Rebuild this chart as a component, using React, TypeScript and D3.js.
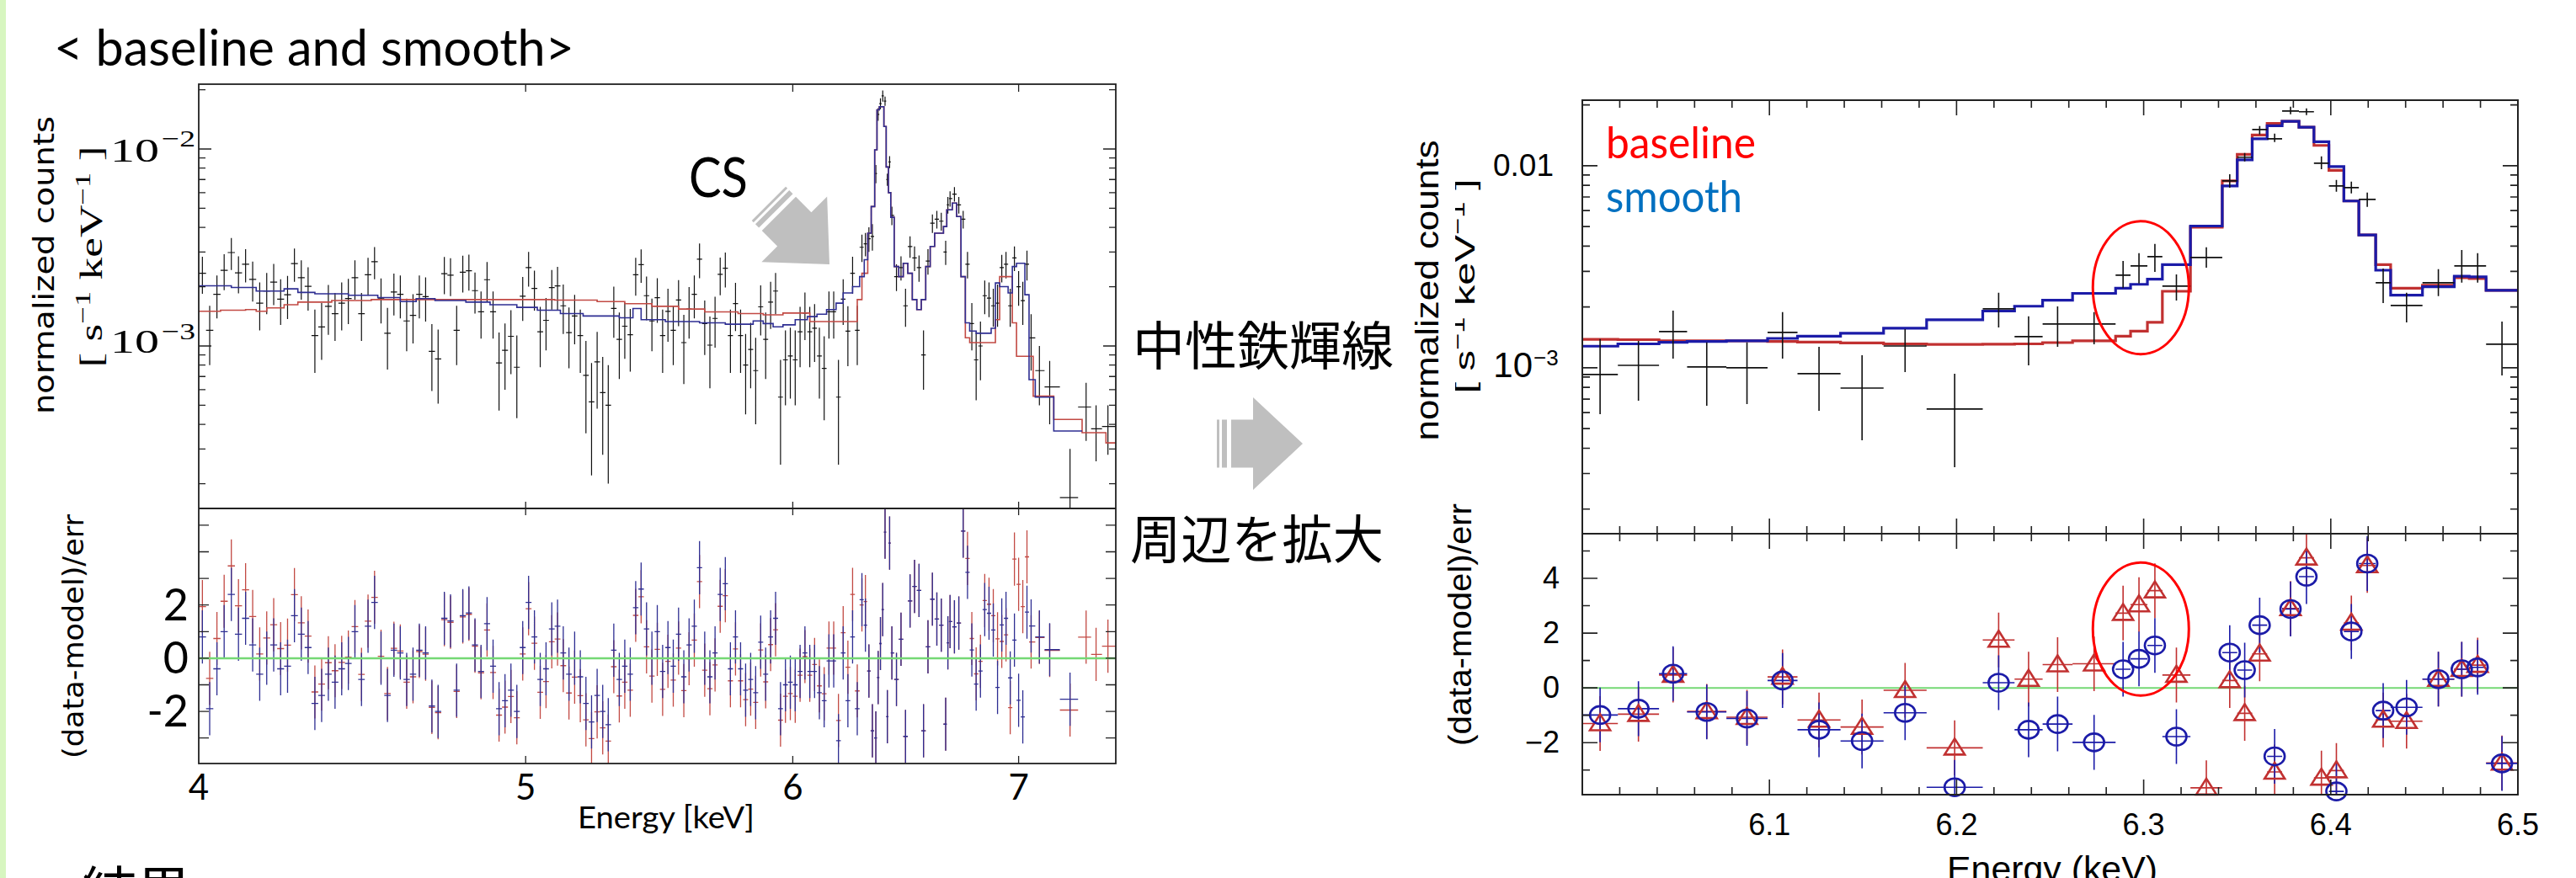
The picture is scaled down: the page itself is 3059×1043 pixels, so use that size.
import React from "react";
import * as d3 from "d3";

// ---------------- left plot: 4 - 7.5 keV, values in 1e-3 counts s^-1 keV^-1 ----------------
const leftEnergy = [
  4.01, 4.03, 4.05, 4.07, 4.09, 4.11, 4.13, 4.15, 4.17, 4.19,
  4.21, 4.23, 4.25, 4.27, 4.29, 4.31, 4.33, 4.35, 4.37, 4.39,
  4.41, 4.43, 4.45, 4.47, 4.49, 4.51, 4.53, 4.55, 4.57, 4.59,
  4.61, 4.63, 4.65, 4.67, 4.69, 4.71, 4.73, 4.75, 4.77, 4.79,
  4.81, 4.83, 4.85, 4.87, 4.89, 4.91, 4.93, 4.95, 4.97, 4.99,
  5.01, 5.03, 5.05, 5.07, 5.09, 5.11, 5.13, 5.15, 5.17, 5.19,
  5.21, 5.23, 5.25, 5.27, 5.29, 5.31, 5.33, 5.35, 5.37, 5.39,
  5.41, 5.43, 5.45, 5.47, 5.49, 5.51, 5.53, 5.55, 5.57, 5.59,
  5.61, 5.63, 5.65, 5.67, 5.69, 5.71, 5.73, 5.75, 5.77, 5.79,
  5.81, 5.83, 5.85, 5.87, 5.89, 5.91, 5.93, 5.95, 5.97, 5.99,
  6.01, 6.03, 6.05, 6.07, 6.09, 6.11, 6.13, 6.15, 6.17, 6.19,
  6.21, 6.23, 6.25, 6.27, 6.29,
  6.305, 6.32, 6.335, 6.35, 6.36, 6.37, 6.38, 6.39, 6.40, 6.41,
  6.42, 6.44, 6.46, 6.48, 6.50, 6.52, 6.54, 6.56, 6.58, 6.60,
  6.62, 6.64, 6.66, 6.67, 6.68, 6.70, 6.72, 6.74, 6.76, 6.78,
  6.80, 6.82, 6.84, 6.86, 6.88, 6.90, 6.92, 6.94, 6.96, 6.98,
  7.00, 7.02, 7.04, 7.06, 7.10, 7.15, 7.25, 7.33, 7.38, 7.44,
];
const leftCounts = [
  2.34, 1.2, 1.83, 2.42, 2.98, 2.35, 2.6, 2.18, 1.65, 1.9,
  2.11, 1.73, 1.82, 2.62, 2.22, 2.01, 1.13, 1.25, 1.59, 1.46,
  1.65, 1.74, 2.22, 1.46, 2.3, 2.68, 1.75, 1.16, 1.88, 1.83,
  1.34, 1.43, 1.83, 1.78, 0.94, 0.86, 2.33, 2.29, 1.2, 2.37,
  2.41, 1.91, 1.49, 2.17, 1.49, 0.82, 0.95, 1.12, 0.78, 1.79,
  2.5, 1.96, 1.18, 1.35, 1.98, 2.02, 1.6, 1.17, 1.42, 1.13,
  0.71, 0.52, 0.83, 0.58, 0.5, 1.55, 1.08, 1.26, 1.14, 2.3,
  2.59, 1.8, 1.34, 1.76, 1.13, 1.5, 1.2, 1.71, 1.04, 1.54,
  1.83, 2.76, 1.3, 1.01, 1.38, 2.31, 2.48, 1.13, 1.64, 1.13,
  0.8, 0.96, 0.75, 1.58, 1.08, 1.67, 1.9, 0.55, 0.85, 0.89,
  0.85, 1.18, 1.47, 1.18, 1.23, 0.89, 0.77, 1.49, 1.49, 0.55,
  1.73, 1.19, 2.34, 1.2, 3.17,
  3.3, 3.5, 3.6, 7.5, 15.0, 17.0, 18.6, 17.5, 7.0, 8.6,
  4.6, 2.25, 2.5, 1.6, 3.2, 2.8, 2.5, 0.9, 2.7, 4.2,
  4.4, 4.3, 3.0, 5.2, 5.6, 5.9, 5.2, 4.4, 2.6, 1.3,
  0.85, 1.0, 1.8, 1.75, 1.6, 1.65, 2.5, 2.6, 1.6, 2.8,
  2.0, 1.7, 2.6, 1.1, 0.75, 0.62, 0.17, 0.49, 0.38, 0.39,
];
const leftErr = [
  0.5, 0.4, 0.45, 0.5, 0.55, 0.5, 0.5, 0.5, 0.45, 0.45,
  0.5, 0.45, 0.45, 0.5, 0.5, 0.5, 0.4, 0.4, 0.45, 0.4,
  0.45, 0.45, 0.5, 0.4, 0.5, 0.5, 0.45, 0.4, 0.45, 0.45,
  0.4, 0.4, 0.45, 0.45, 0.35, 0.35, 0.5, 0.5, 0.4, 0.5,
  0.5, 0.45, 0.4, 0.5, 0.4, 0.35, 0.35, 0.4, 0.35, 0.45,
  0.5, 0.45, 0.4, 0.4, 0.45, 0.5, 0.45, 0.4, 0.4, 0.4,
  0.35, 0.3, 0.35, 0.3, 0.3, 0.45, 0.4, 0.4, 0.4, 0.5,
  0.5, 0.45, 0.4, 0.45, 0.4, 0.45, 0.4, 0.45, 0.4, 0.45,
  0.45, 0.55, 0.4, 0.4, 0.4, 0.5, 0.5, 0.4, 0.45, 0.4,
  0.35, 0.35, 0.35, 0.45, 0.4, 0.45, 0.45, 0.3, 0.35, 0.35,
  0.35, 0.4, 0.4, 0.4, 0.4, 0.35, 0.35, 0.4, 0.4, 0.3,
  0.45, 0.4, 0.5, 0.4, 0.5,
  0.45, 0.5, 0.55, 0.8, 1.1, 1.1, 1.2, 0.95, 0.5, 0.6,
  0.5, 0.35, 0.35, 0.35, 0.4, 0.4, 0.38, 0.3, 0.4, 0.45,
  0.45, 0.45, 0.42, 0.5, 0.5, 0.5, 0.5, 0.45, 0.4, 0.35,
  0.32, 0.33, 0.35, 0.35, 0.35, 0.4, 0.4, 0.4, 0.35, 0.4,
  0.4, 0.42, 0.45, 0.35, 0.25, 0.22, 0.13, 0.16, 0.12, 0.11,
];
// (data-model)/err for the smooth (blue) and baseline (red) fits
const leftResSmooth = [
  0.8, -1.9, -0.4, 1.0, 2.4, 0.9, 1.5, 0.5, -0.6, 0.0,
  0.5, -0.4, -0.3, 1.6, 0.9, 0.4, -1.7, -1.4, -0.6, -0.9,
  -0.4, -0.2, 1.0, -0.8, 1.2, 2.1, 0.0, -1.4, 0.3, 0.2,
  -0.8, -0.6, 0.3, 0.2, -1.8, -2.0, 1.5, 1.4, -1.2, 1.6,
  1.7, 0.5, -0.5, 1.3, -0.3, -1.9, -1.6, -1.2, -2.0, 0.4,
  2.1, 0.8, -0.8, -0.4, 1.1, 1.2, 0.2, -0.6, 0.0, -0.7,
  -1.7, -2.4, -1.4, -2.0, -2.5, 0.3, -0.8, -0.3, -0.6, 1.9,
  2.6, 1.1, 0.0, 1.0, -0.5, 0.4, -0.3, 0.9, -0.7, 0.5,
  1.2, 3.4, 0.0, -0.7, 0.2, 2.4, 2.8, -0.4, 0.8, -0.4,
  -1.2, -0.8, -1.3, 0.6, -0.6, 0.8, 1.5, -1.9, -1.0, -0.9,
  -1.0, -0.5, 0.2, -0.5, -0.5, -1.3, -1.6, -0.1, -0.1, -3.1,
  0.2, -1.6, 0.8, -1.9, 2.2,
  1.24, -0.48, -2.73, -3.0, -0.73, 0.55, 1.83, 4.74, -2.2, 4.33,
  0.2, -0.8, 0.71, -2.94, 2.15, 2.7, 2.55, -2.73, 0.43, 2.22,
  1.47, 1.24, -2.48, 0.58, 1.38, 1.18, 1.32, 4.78, 3.23, 0.31,
  -0.97, -0.48, 1.83, 1.69, 1.06, -1.1, 1.25, 1.5, -0.74, 0.68,
  -1.58, -2.21, 1.73, 1.21, 0.8, 0.32, -1.54, null, null, null,
];
const leftResBaseline = [
  1.94, -0.76, 0.74, 2.14, 3.47, 1.97, 2.57, 1.57, 0.16, 0.76,
  1.26, 0.36, 0.49, 2.39, 1.33, 0.83, -1.27, -0.97, -0.17, -0.47,
  -0.16, 0.04, 1.19, -0.61, 1.39, 2.29, 0.07, -1.33, 0.37, 0.27,
  -0.9, -0.7, 0.25, 0.15, -1.85, -2.05, 1.45, 1.35, -1.25, 1.55,
  1.65, 0.45, -0.55, 1.06, -0.54, -2.14, -1.84, -1.44, -2.24, 0.16,
  1.86, 0.56, -1.28, -0.88, 0.62, 0.72, -0.28, -1.31, -0.71, -1.41,
  -2.32, -3.02, -2.02, -2.62, -3.12, -0.32, -1.42, -0.9, -1.2, 1.61,
  2.31, 0.43, -0.67, 0.33, -1.17, -0.12, -0.82, 0.38, -1.22, -0.02,
  0.68, 2.88, -0.45, -1.15, -0.25, 1.95, 2.35, -0.85, 0.35, -0.85,
  -1.56, -1.16, -1.66, 0.31, -0.89, 0.51, 1.07, -2.33, -1.43, -1.33,
  -1.43, -0.64, 0.06, -0.64, -0.24, -1.04, -1.34, 0.38, 0.38, -2.34,
  0.96, -0.34, 2.4, -1.23, 2.0,
  2.13, -0.48, -2.73, -3.0, -0.73, 0.55, 1.83, 4.74, -2.2, 4.33,
  0.2, -0.8, 0.71, -2.94, 2.15, 2.7, 2.55, -2.73, 0.43, 2.22,
  1.47, 1.24, -2.48, 0.58, 1.38, 1.18, 1.32, 4.78, 3.75, 0.74,
  -0.59, -0.12, 2.17, 2.03, 1.6, 0.73, 0.63, 0.88, -1.86, 3.73,
  2.78, 1.94, 3.81, 0.61, 0.78, 0.29, -1.95, 0.79, 0.14, 0.45,
];
// model step lines (start energy of each step, value 1e-3)
const leftSmoothE = [
  4.0, 4.09, 4.16, 4.24, 4.28, 4.33, 4.43, 4.52, 4.59, 4.64, 4.7, 4.8, 4.88, 4.97, 5.04, 5.12,
  5.2, 5.33, 5.38, 5.41, 5.5, 5.63, 5.73, 5.84, 5.88, 5.92, 5.96, 6.01, 6.06, 6.1, 6.14, 6.18,
  6.21, 6.25, 6.28, 6.3, 6.315, 6.33, 6.345, 6.355, 6.365, 6.385, 6.395, 6.405, 6.415, 6.43,
  6.45, 6.47, 6.49, 6.51, 6.53, 6.55, 6.57, 6.59, 6.61, 6.65, 6.665, 6.69, 6.71, 6.73, 6.75,
  6.77, 6.8, 6.87, 6.89, 6.91, 6.95, 6.97, 6.99, 7.03, 7.05, 7.08, 7.17, 7.31,
];
const leftSmoothV = [
  2.02, 1.98, 1.9, 1.95, 1.87, 1.84, 1.81, 1.76, 1.68, 1.74, 1.7, 1.67, 1.62, 1.57, 1.52, 1.46,
  1.42, 1.39, 1.55, 1.36, 1.33, 1.31, 1.29, 1.34, 1.3, 1.25, 1.28, 1.36, 1.41, 1.45, 1.53, 1.65,
  1.86, 2.0, 2.25, 2.74, 3.74, 5.1, 9.9, 15.8, 16.4, 13.0, 8.1, 6.0, 4.5, 2.53,
  2.25, 2.63, 2.34, 1.72, 1.53, 1.72, 2.53, 3.2, 3.74, 4.04, 4.91, 5.31, 4.54, 2.25, 1.31,
  1.19, 1.16, 1.23, 2.09, 2.0, 1.86, 2.53, 2.63, 1.82, 0.675, 0.55, 0.37, 0.37,
];
const leftBaseE = [
  4.0, 4.06, 4.13, 4.16, 4.19, 4.24, 4.28, 4.38, 4.5, 5.1, 5.25, 5.35, 5.45, 5.55, 5.65, 5.78,
  5.88, 5.96, 6.07, 6.27, 6.29, 6.315, 6.33, 6.345, 6.355, 6.365, 6.385, 6.395, 6.405, 6.415,
  6.43, 6.45, 6.47, 6.49, 6.51, 6.53, 6.55, 6.57, 6.59, 6.61, 6.65, 6.665, 6.69, 6.71, 6.73,
  6.75, 6.77, 6.89, 6.91, 6.97, 6.99, 7.07, 7.17, 7.31, 7.43, 7.48,
];
const leftBaseV = [
  1.5, 1.52, 1.53, 1.5, 1.56, 1.62, 1.67, 1.7, 1.72, 1.71, 1.68, 1.64, 1.59, 1.54, 1.49, 1.46,
  1.44, 1.47, 1.33, 1.72, 2.34, 3.74, 5.1, 9.9, 15.8, 16.4, 13.0, 8.1, 6.0, 4.5,
  2.53, 2.25, 2.63, 2.34, 1.72, 1.53, 1.72, 2.53, 3.2, 3.74, 4.04, 4.91, 5.31, 4.54, 2.25,
  1.1, 1.04, 1.36, 2.25, 1.31, 0.887, 0.556, 0.424, 0.363, 0.322, 0.322,
];

// ---------------- right plot: 6.0 - 6.5 keV zoom ----------------
const rightEdges = [
  6.0, 6.019, 6.041, 6.056, 6.077, 6.099, 6.115, 6.138, 6.161, 6.184, 6.214, 6.231, 6.246,
  6.262, 6.285, 6.293, 6.302, 6.31, 6.325, 6.342, 6.35, 6.358, 6.366, 6.374, 6.383, 6.391,
  6.399, 6.407, 6.415, 6.424, 6.432, 6.449, 6.466, 6.474, 6.483, 6.5,
];
const rightCounts = [
  0.926, 1.029, 1.511, 1.01, 1.0, 1.496, 0.935, 0.794, 1.283, 0.625, 1.957, 1.426, 1.647,
  1.647, 2.873, 3.192, 3.548, 2.536, 3.514, 8.41, 11.01, 15.1, 13.59, 18.65, 18.48, 10.29,
  7.94, 7.79, 6.81, 2.636, 2.034, 2.636, 3.192, 3.192, 1.308,
];
const rightLow = [
  0.59, 0.688, 1.111, 0.649, 0.662, 1.111, 0.613, 0.438, 0.953, 0.322, 1.585, 1.029, 1.271,
  1.308, 2.488, 2.611, 2.985, 2.154, 3.132, 7.79, 10.49, 14.26, 13.08, 17.96, 17.78, 9.62,
  7.43, 7.29, 6.25, 2.093, 1.679, 2.261, 2.636, 2.636, 0.917,
];
const rightHigh = [
  1.386, 1.359, 1.919, 1.334, 1.334, 1.884, 1.271, 1.155, 1.555, 0.935, 2.349, 1.796, 2.014,
  1.884, 3.381, 3.687, 4.1, 2.9, 3.943, 9.08, 11.55, 15.7, 14.4, 19.58, 19.2, 11.11,
  8.5, 8.34, 7.36, 3.102, 2.349, 3.073, 3.831, 3.687, 1.695,
];
const rightBaseline = [
  1.383, 1.378, 1.359, 1.359, 1.359, 1.35, 1.341, 1.327, 1.313, 1.305, 1.309, 1.313, 1.332,
  1.359, 1.432, 1.517, 1.68, 2.391, 4.963, 8.41, 11.37, 14.2, 16.19, 16.58, 15.49, 12.6,
  9.49, 6.69, 4.54, 3.236, 2.475, 2.563, 2.792, 2.762, 2.416,
];
const rightSmooth = [
  1.279, 1.313, 1.336, 1.35, 1.359, 1.398, 1.432, 1.481, 1.57, 1.728, 1.909, 2.017, 2.159,
  2.335, 2.475, 2.588, 2.744, 3.236, 5.03, 7.94, 10.69, 13.59, 15.76, 16.58, 15.49, 13.13,
  9.91, 6.69, 4.54, 3.04, 2.289, 2.519, 2.84, 2.821, 2.416,
];
const rightResBaseline = [
  -1.3, -0.96, 0.47, -0.86, -1.07, 0.4, -1.17, -1.43, -0.09, -2.19, 1.75, 0.32, 0.85,
  0.88, 2.73, 3.04, 3.55, 0.47, -3.65, 0.27, -0.93, 1.24, -3.07, 2.9, 4.75, -3.29,
  -3.02, 2.37, 4.47, -1.17, -1.22, 0.32, 0.68, 0.83, -2.74,
];
const rightResSmooth = [
  -0.99, -0.76, 0.52, -0.88, -1.12, 0.27, -1.53, -1.94, -0.91, -3.63, 0.19, -1.53, -1.32,
  -1.99, 0.68, 1.06, 1.55, -1.78, -5.2, 1.29, 0.65, 2.29, -2.5, 2.88, 4.06, -5.2,
  -3.78, 2.06, 4.54, -0.83, -0.71, 0.32, 0.68, 0.75, -2.76,
];

const leftXTicks = [4, 5, 6, 7];
const leftResTickLabels = [2, 0, -2];
const rightXTickLabels = [6.1, 6.2, 6.3, 6.4, 6.5];
const rightResTickLabels = [4, 2, 0, -2];

const RED_L = "#c24a44";
const BLUE_L = "#2e2e92";
const RED_R = "#c13131";
const BLUE_R = "#1b1ba8";
const GREEN = "#74d874";
const GRAY = "#bfbfbf";

const seg = (x1: number, y1: number, x2: number, y2: number) => `M${x1},${y1}L${x2},${y2}`;

function logTicks(lo: number, hi: number) {
  const out: { v: number; major: boolean }[] = [];
  for (let d = -5; d <= -1; d++)
    for (let k = 1; k <= 9; k++) {
      const v = k * Math.pow(10, d);
      if (v >= lo && v <= hi) out.push({ v, major: k === 1 });
    }
  return out;
}

function StripedArrow({ transform }: { transform: string }) {
  return (
    <g transform={transform} fill={GRAY}>
      <path d="M0,0L-59,-55L-59,-28.5L-85,-28.5L-85,28.5L-59,28.5L-59,55Z" />
      <rect x={-96} y={-28.5} width={6} height={57} />
      <rect x={-102} y={-28.5} width={3} height={57} />
    </g>
  );
}

export default function App() {
  // ---- left geometry
  const L = { x0: 236, x1: 1325, top: 100, mid: 604, bot: 907 };
  const xL = d3.scaleLog().domain([4, 7.48]).range([L.x0, L.x1]);
  const yLU = d3.scaleLog().domain([1.497e-4, 0.02133]).range([L.mid, L.top]);
  const yLR = d3.scaleLinear().domain([-3.96, 5.63]).range([L.bot, L.mid]);

  // ---- right geometry
  const R = { x0: 1879, x1: 2990, top: 119, mid: 634, bot: 944 };
  const xR = d3.scaleLinear().domain([6.0, 6.5]).range([R.x0, R.x1]);
  const yRU = d3.scaleLog().domain([1.51e-4, 0.0211]).range([R.mid, R.top]);
  const yRR = d3.scaleLinear().domain([-3.9, 5.63]).range([R.bot, R.mid]);

  const n = leftEnergy.length;
  const lo = (i: number) => (i === 0 ? 4.0 : (leftEnergy[i - 1] + leftEnergy[i]) / 2);
  const hi = (i: number) => (i === n - 1 ? 7.48 : (leftEnergy[i] + leftEnergy[i + 1]) / 2);
  const [yMinL, yMaxL] = yLU.domain();

  // left data crosses
  let leftData = "";
  leftEnergy.forEach((e, i) => {
    const v = leftCounts[i] * 1e-3;
    const er = leftErr[i] * 1e-3;
    const yTop = yLU(Math.min(v + er, yMaxL));
    const yBot = yLU(Math.max(v - er, yMinL));
    const x = xL(e);
    leftData += seg(x, yTop, x, yBot) + seg(xL(lo(i)), yLU(v), xL(hi(i)), yLU(v));
  });

  const stepL = d3
    .line<[number, number]>()
    .curve(d3.curveStepAfter)
    .x((d) => xL(d[0]))
    .y((d) => yLU(d[1] * 1e-3));
  const leftSmoothPath = stepL(leftSmoothE.map((e, i) => [e, leftSmoothV[i]]) as [number, number][]);
  const leftBasePath = stepL(leftBaseE.map((e, i) => [e, leftBaseV[i]]) as [number, number][]);

  const resCross = (vals: (number | null)[]) => {
    let p = "";
    vals.forEach((r, i) => {
      if (r === null) return;
      const x = xL(leftEnergy[i]);
      p += seg(x, yLR(r + 1), x, yLR(r - 1)) + seg(xL(lo(i)), yLR(r), xL(hi(i)), yLR(r));
    });
    return p;
  };

  // left ticks
  let leftTicks = "";
  logTicks(yMinL, yMaxL).forEach(({ v, major }) => {
    const y = yLU(v);
    const len = major ? 15 : 8;
    leftTicks += seg(L.x0, y, L.x0 + len, y) + seg(L.x1, y, L.x1 - len, y);
  });
  [5, 6, 7].forEach((e) => {
    const x = xL(e);
    leftTicks += seg(x, L.top, x, L.top + 9) + seg(x, L.mid - 8, x, L.mid + 8) + seg(x, L.bot, x, L.bot - 9);
  });
  d3.range(-3, 6).forEach((r) => {
    const y = yLR(r);
    leftTicks += seg(L.x0, y, L.x0 + 12, y) + seg(L.x1, y, L.x1 - 12, y);
  });

  // right panel pieces
  const rb = rightCounts.map((_, i) => [rightEdges[i], rightEdges[i + 1]]);
  let rightData = "";
  rightCounts.forEach((v, i) => {
    const [a, b] = rb[i];
    const x = xR((a + b) / 2);
    rightData +=
      seg(x, yRU(rightHigh[i] * 1e-3), x, yRU(rightLow[i] * 1e-3)) +
      seg(xR(a), yRU(v * 1e-3), xR(b), yRU(v * 1e-3));
  });
  const stepR = (vals: number[]) => {
    let p = `M${xR(rightEdges[0])},${yRU(vals[0] * 1e-3)}`;
    vals.forEach((v, i) => {
      p += `V${yRU(v * 1e-3)}H${xR(rightEdges[i + 1])}`;
    });
    return p;
  };
  const rightResBars = (vals: number[]) => {
    let p = "";
    vals.forEach((r, i) => {
      const [a, b] = rb[i];
      const x = xR((a + b) / 2);
      p += seg(x, yRR(r + 1), x, yRR(r - 1)) + seg(xR(a), yRR(r), xR(b), yRR(r));
    });
    return p;
  };

  let rightTicks = "";
  d3.range(6.02, 6.49, 0.02).forEach((e) => {
    const major = Math.abs(e * 10 - Math.round(e * 10)) < 1e-6;
    const x = xR(e);
    const len = major ? 18 : 9;
    rightTicks += seg(x, R.top, x, R.top + len) + seg(x, R.mid - len, x, R.mid + len) + seg(x, R.bot, x, R.bot - len);
  });
  logTicks(yRU.domain()[0], yRU.domain()[1]).forEach(({ v, major }) => {
    const y = yRU(v);
    const len = major ? 18 : 9;
    rightTicks += seg(R.x0, y, R.x0 + len, y) + seg(R.x1, y, R.x1 - len, y);
  });
  d3.range(-3, 6).forEach((r) => {
    const y = yRR(r);
    const len = r % 2 === 0 ? 18 : 9;
    rightTicks += seg(R.x0, y, R.x0 + len, y) + seg(R.x1, y, R.x1 - len, y);
  });

  const tri = (x: number, y: number) => `M${x},${y - 11}L${x + 12},${y + 8}L${x - 12},${y + 8}Z`;
  const visible = (r: number) => r > -4.4 && r < 6;

  const calibri = "Lato, 'Open Sans', sans-serif";
  const arial = "'Liberation Sans', Arial, sans-serif";
  const dejavu = "'DejaVu Sans', sans-serif";
  const serif = "'Liberation Serif', 'DejaVu Serif', serif";
  const cjk = "'Noto Sans CJK JP', 'Noto Sans CJK SC', sans-serif";

  return (
    <svg
      width={3059}
      height={1043}
      style={{ position: "absolute", left: 0, top: 0, display: "block", background: "#fff" }}
    >
      <defs>
        <clipPath id="clipLU">
          <rect x={L.x0} y={L.top} width={L.x1 - L.x0} height={L.mid - L.top} />
        </clipPath>
        <clipPath id="clipLR">
          <rect x={L.x0} y={L.mid} width={L.x1 - L.x0} height={L.bot - L.mid} />
        </clipPath>
        <clipPath id="clipRR">
          <rect x={R.x0} y={R.mid} width={R.x1 - R.x0} height={R.bot - R.mid} />
        </clipPath>
        <clipPath id="clipUnit">
          <rect x={1728} y={100} width={80} height={500} />
        </clipPath>
      </defs>
      <rect x={0} y={0} width={3059} height={1043} fill="#fff" />
      <rect x={0} y={0} width={7} height={1043} fill="#d7f6c0" />

      {/* ---------- titles and captions ---------- */}
      <text x={64} y={78} fontFamily={calibri} fontSize={60} textLength={618} lengthAdjust="spacingAndGlyphs">
        {"< baseline and smooth>"}
      </text>
      <text x={97} y={1083} fontFamily={cjk} fontSize={65}>
        結果
      </text>
      <text x={1345} y={434} fontFamily={cjk} fontSize={62} textLength={310} lengthAdjust="spacingAndGlyphs">
        中性鉄輝線
      </text>
      <text x={1342} y={664} fontFamily={cjk} fontSize={62} textLength={301} lengthAdjust="spacingAndGlyphs">
        周辺を拡大
      </text>
      <StripedArrow transform="translate(1547,527)" />

      {/* ---------- left plot ---------- */}
      <g clipPath="url(#clipLU)">
        <path d={leftData} stroke="#111" strokeWidth={1.2} fill="none" />
        <path d={leftBasePath || ""} stroke={RED_L} strokeWidth={1.6} fill="none" />
        <path d={leftSmoothPath || ""} stroke={BLUE_L} strokeWidth={1.6} fill="none" />
      </g>
      <g clipPath="url(#clipLR)">
        <path d={resCross(leftResBaseline)} stroke={RED_L} strokeWidth={1.3} fill="none" />
        <path d={resCross(leftResSmooth)} stroke={BLUE_L} strokeWidth={1.3} fill="none" />
        <line x1={L.x0} x2={L.x1} y1={yLR(0)} y2={yLR(0)} stroke={GREEN} strokeWidth={2.5} />
      </g>
      <path d={leftTicks} stroke="#222" strokeWidth={1.3} fill="none" />
      <rect x={L.x0} y={L.top} width={L.x1 - L.x0} height={L.bot - L.top} fill="none" stroke="#222" strokeWidth={1.8} />
      <line x1={L.x0} x2={L.x1} y1={L.mid} y2={L.mid} stroke="#222" strokeWidth={1.8} />

      {/* left axis labels */}
      <text x={131} y={192} fontFamily={serif} fontSize={40} textLength={58} lengthAdjust="spacingAndGlyphs">10</text>
      <text x={192} y={174} fontFamily={serif} fontSize={28} textLength={40} lengthAdjust="spacingAndGlyphs">−2</text>
      <text x={131} y={419} fontFamily={serif} fontSize={40} textLength={58} lengthAdjust="spacingAndGlyphs">10</text>
      <text x={192} y={403} fontFamily={serif} fontSize={28} textLength={40} lengthAdjust="spacingAndGlyphs">−3</text>
      {leftResTickLabels.map((t) => (
        <text key={t} x={224} y={yLR(t) + 18} textAnchor="end" fontFamily={calibri} fontSize={52}>
          {t < 0 ? `-${-t}` : t}
        </text>
      ))}
      {leftXTicks.map((t) => (
        <text key={t} x={xL(t)} y={950} textAnchor="middle" fontFamily={calibri} fontSize={42}>
          {t}
        </text>
      ))}
      <text x={686} y={984} fontFamily={calibri} fontSize={37} textLength={210} lengthAdjust="spacingAndGlyphs">
        Energy [keV]
      </text>
      <text
        transform="translate(64,315) rotate(-90)"
        textAnchor="middle"
        fontFamily={dejavu}
        fontSize={34}
        textLength={354}
        lengthAdjust="spacingAndGlyphs"
      >
        normalized counts
      </text>
      <text
        transform="translate(121,305) rotate(-90)"
        textAnchor="middle"
        fontFamily={serif}
        fontSize={38}
        textLength={263}
        lengthAdjust="spacingAndGlyphs"
      >
        <tspan>[ s</tspan>
        <tspan dy={-14} fontSize={26}>−1</tspan>
        <tspan dy={14}> keV</tspan>
        <tspan dy={-14} fontSize={26}>−1</tspan>
        <tspan dy={14}> ]</tspan>
      </text>
      <text
        transform="translate(99,756) rotate(-90)"
        textAnchor="middle"
        fontFamily={dejavu}
        fontSize={34}
        textLength={290}
        lengthAdjust="spacingAndGlyphs"
      >
        (data-model)/err
      </text>

      {/* CS annotation */}
      <text x={818} y={234} fontFamily={calibri} fontSize={66} textLength={70} lengthAdjust="spacingAndGlyphs">
        CS
      </text>
      <StripedArrow transform="translate(985,314) rotate(45)" />

      {/* ---------- right plot ---------- */}
      <path d={stepR(rightBaseline)} stroke={RED_R} strokeWidth={3.2} fill="none" />
      <path d={stepR(rightSmooth)} stroke={BLUE_R} strokeWidth={3.2} fill="none" />
      <path d={rightData} stroke="#111" strokeWidth={1.6} fill="none" />

      <line x1={R.x0} x2={R.x1} y1={yRR(0)} y2={yRR(0)} stroke={GREEN} strokeWidth={2} />
      <g clipPath="url(#clipRR)">
        <path d={rightResBars(rightResBaseline)} stroke={RED_R} strokeWidth={1.6} fill="none" />
        <path d={rightResBars(rightResSmooth)} stroke={BLUE_R} strokeWidth={1.6} fill="none" />
      </g>
      {rightResBaseline.map((r, i) =>
        visible(r) ? (
          <path
            key={"t" + i}
            d={tri(xR((rb[i][0] + rb[i][1]) / 2), yRR(r))}
            stroke={RED_R}
            strokeWidth={2.6}
            fill="none"
          />
        ) : null
      )}
      {rightResSmooth.map((r, i) =>
        visible(r) ? (
          <ellipse
            key={"c" + i}
            cx={xR((rb[i][0] + rb[i][1]) / 2)}
            cy={yRR(r)}
            rx={12}
            ry={10.5}
            stroke={BLUE_R}
            strokeWidth={2.6}
            fill="none"
          />
        ) : null
      )}

      <path d={rightTicks} stroke="#222" strokeWidth={1.6} fill="none" />
      <rect x={R.x0} y={R.top} width={R.x1 - R.x0} height={R.bot - R.top} fill="none" stroke="#222" strokeWidth={2} />
      <line x1={R.x0} x2={R.x1} y1={R.mid} y2={R.mid} stroke="#222" strokeWidth={2} />

      {/* highlighted region */}
      <ellipse cx={xR(6.2985)} cy={yRU(2.49e-3)} rx={57} ry={79} stroke="#ff0000" strokeWidth={3} fill="none" />
      <ellipse cx={xR(6.2985)} cy={yRR(2.15)} rx={57} ry={79} stroke="#ff0000" strokeWidth={3} fill="none" />

      {/* legend text */}
      <text x={1907} y={188} fill="#ff0000" fontFamily={calibri} fontSize={52} textLength={178} lengthAdjust="spacingAndGlyphs">
        baseline
      </text>
      <text x={1907} y={252} fill="#0070c0" fontFamily={calibri} fontSize={52} textLength={162} lengthAdjust="spacingAndGlyphs">
        smooth
      </text>

      {/* right axis labels */}
      <text x={1845} y={209} textAnchor="end" fontFamily={arial} fontSize={37}>0.01</text>
      <text x={1820} y={448} textAnchor="end" fontFamily={arial} fontSize={42}>10</text>
      <text x={1821} y={434} fontFamily={arial} fontSize={26}>−3</text>
      {rightResTickLabels.map((t) => (
        <text key={t} x={1852} y={yRR(t) + 12} textAnchor="end" fontFamily={arial} fontSize={36}>
          {t < 0 ? `−${-t}` : t}
        </text>
      ))}
      {rightXTickLabels.map((t) => (
        <text key={t} x={xR(t)} y={992} textAnchor="middle" fontFamily={arial} fontSize={36}>
          {d3.format(".1f")(t)}
        </text>
      ))}
      <text x={2312} y={1047} fontFamily={arial} fontSize={42} textLength={250} lengthAdjust="spacingAndGlyphs">
        Energy (keV)
      </text>
      <text
        transform="translate(1708,345) rotate(-90)"
        textAnchor="middle"
        fontFamily={arial}
        fontSize={38}
        textLength={357}
        lengthAdjust="spacingAndGlyphs"
      >
        normalized counts
      </text>
      <g clipPath="url(#clipUnit)">
        <text
          transform="translate(1751,340) rotate(-90)"
          textAnchor="middle"
          fontFamily={arial}
          fontSize={34}
          textLength={255}
          lengthAdjust="spacingAndGlyphs"
        >
          <tspan>[ s</tspan>
          <tspan dy={-12} fontSize={24}>−1</tspan>
          <tspan dy={12}> keV</tspan>
          <tspan dy={-12} fontSize={24}>−1</tspan>
          <tspan dy={12}> ]</tspan>
        </text>
      </g>
      <text
        transform="translate(1747,742) rotate(-90)"
        textAnchor="middle"
        fontFamily={arial}
        fontSize={39}
        textLength={288}
        lengthAdjust="spacingAndGlyphs"
      >
        (data-model)/err
      </text>
    </svg>
  );
}
